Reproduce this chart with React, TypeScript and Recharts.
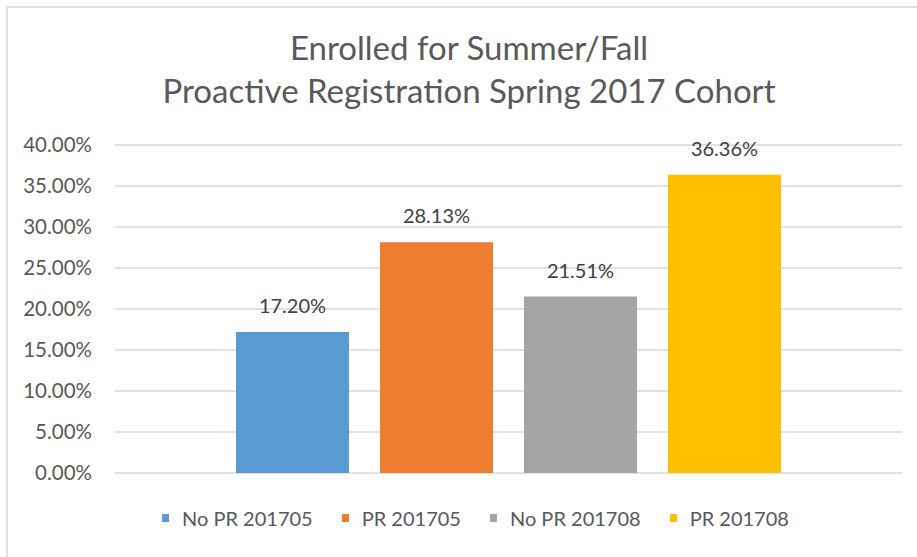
import React from 'react';
import { BarChart, Bar, XAxis, YAxis, CartesianGrid, Legend, LabelList } from 'recharts';

const SERIES_NAMES = ['No PR 201705', 'PR 201705', 'No PR 201708', 'PR 201708'];
const SERIES_VALUES = [17.2, 28.13, 21.51, 36.36];
const SERIES_COLORS = ['#5b9bd5', '#ed7d31', '#a5a5a5', '#ffc000'];
const Y_TICKS = [0, 5, 10, 15, 20, 25, 30, 35, 40];
const TITLE_LINES = ['Enrolled for Summer/Fall', 'Proactive Registration Spring 2017 Cohort'];

const FONT = 'Lato, "Open Sans", sans-serif';

const row: Record<string, number | string> = { name: 'cohort' };
SERIES_NAMES.forEach((n, i) => {
  row[n] = SERIES_VALUES[i];
});
const chartData = [row];

function LegendContent(): React.JSX.Element {
  return (
    <div style={{ position: 'relative', height: 30, fontFamily: FONT, fontSize: 20, color: '#595959' }}>
      <div style={{ position: 'absolute', left: 162, top: 0, display: 'flex', alignItems: 'center', whiteSpace: 'nowrap' }}>
        {SERIES_NAMES.map((n, i) => (
          <div key={n} style={{ display: 'flex', alignItems: 'center', marginRight: 29 }}>
            <span style={{ display: 'inline-block', width: 7, height: 8, background: SERIES_COLORS[i], marginRight: 13 }} />
            <span>{n}</span>
          </div>
        ))}
      </div>
    </div>
  );
}

export default function App(): React.JSX.Element {
  return (
    <div style={{ position: 'absolute', left: 0, top: 0, width: 917, height: 557, background: '#fff', overflow: 'hidden' }}>
      <div
        style={{
          position: 'absolute',
          left: 6,
          top: 6,
          right: 0,
          bottom: 0,
          borderTop: '2px solid #e0e0e0',
          borderLeft: '2px solid #e0e0e0',
        }}
      />
      <div
        style={{
          position: 'absolute',
          left: 0,
          top: 26,
          width: 938,
          textAlign: 'center',
          fontFamily: FONT,
          fontSize: 33,
          lineHeight: '43px',
          color: '#595959',
        }}
      >
        {TITLE_LINES.map((t) => (
          <div key={t}>{t}</div>
        ))}
      </div>
      <div style={{ position: 'absolute', left: 0, top: 0 }}>
        <BarChart
          width={917}
          height={557}
          data={chartData}
          margin={{ top: 145, right: 15, bottom: 84, left: 0 }}
          barGap={31}
          barSize={113}
        >
          <CartesianGrid vertical={false} stroke="#d9d9d9" strokeWidth={1.5} />
          <XAxis dataKey="name" hide />
          <YAxis
            domain={[0, 40]}
            ticks={Y_TICKS}
            width={115}
            axisLine={false}
            tickLine={false}
            tickSize={0}
            tickMargin={23}
            tickFormatter={(v: number) => `${v.toFixed(2)}%`}
            tick={{ fontFamily: FONT, fontSize: 20.5, fill: '#595959' }}
            interval={0}
          />
          <Legend
            verticalAlign="middle"
            align="center"
            layout="horizontal"
            content={<LegendContent />}
            wrapperStyle={{ position: 'absolute', left: 0, top: 506, width: 917 }}
          />
          {SERIES_NAMES.map((n, i) => (
            <Bar key={n} dataKey={n} fill={SERIES_COLORS[i]} isAnimationActive={false}>
              <LabelList
                dataKey={n}
                position="top"
                offset={19}
                formatter={(v: number) => `${v.toFixed(2)}%`}
                style={{ fontFamily: FONT, fontSize: 20, fill: '#404040' }}
              />
            </Bar>
          ))}
        </BarChart>
      </div>
    </div>
  );
}
